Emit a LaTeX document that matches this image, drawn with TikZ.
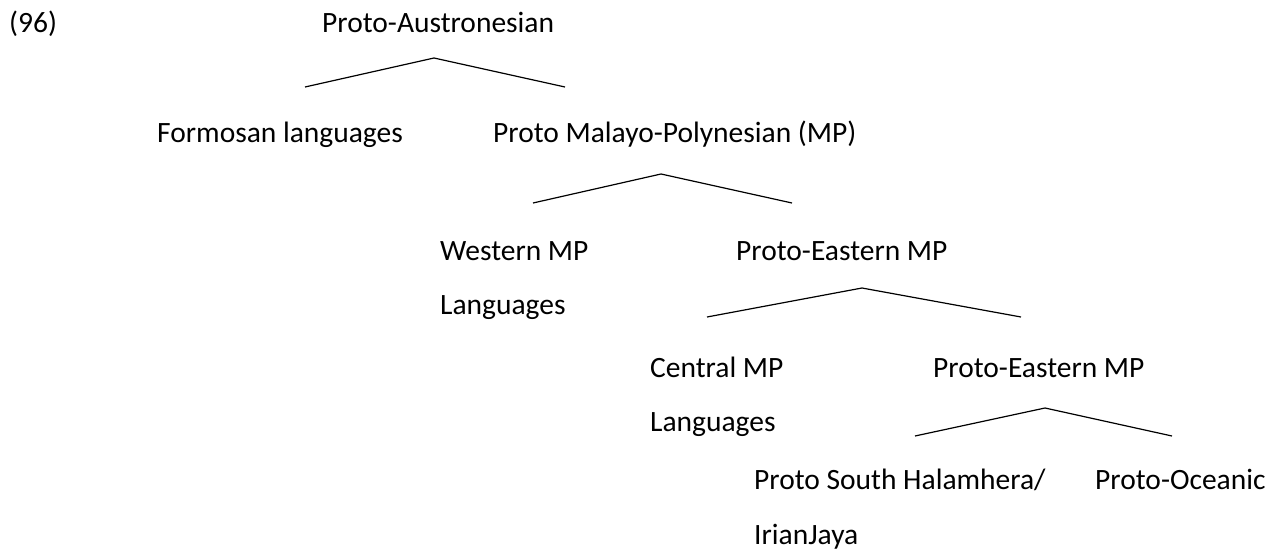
\documentclass[tikz,border=0pt]{standalone}
\usepackage{fontspec}
\setmainfont{Carlito}
% label font
\newcommand{\treefont}{\fontsize{29.5}{35}\selectfont}
\begin{document}
\begin{tikzpicture}[x=1pt,y=-1pt,
  lbl/.style={anchor=base west,inner sep=0pt,font=\treefont},
  branch/.style={line width=1.2pt,line join=miter}]
\useasboundingbox (0,0) rectangle (1276,551);
% example number and root
\node[lbl] (num) at (9,33) {(96)};
\node[lbl] (pan) at (322,33) {Proto-Austronesian};
% level 1
\coordinate (a1) at (434,58);
\coordinate (l1) at (305,87);
\coordinate (r1) at (565,87);
\draw[branch] (l1) -- (a1) -- (r1);
\node[lbl] (form) at (157,142) {Formosan languages};
\node[lbl] (pmp) at (493,142) {Proto Malayo-Polynesian (MP)};
% level 2
\coordinate (a2) at (661,174);
\coordinate (l2) at (533,203);
\coordinate (r2) at (792,203);
\draw[branch] (l2) -- (a2) -- (r2);
\node[lbl] (wmp) at (440,260) {Western MP};
\node[lbl] (wmpb) at (440,314) {Languages};
\node[lbl] (pemp) at (736,260) {Proto-Eastern MP};
% level 3
\coordinate (a3) at (862,288);
\coordinate (l3) at (707,317);
\coordinate (r3) at (1021,317);
\draw[branch] (l3) -- (a3) -- (r3);
\node[lbl] (cmp) at (650,377) {Central MP};
\node[lbl] (cmpb) at (650,431) {Languages};
\node[lbl] (pemp2) at (933,377) {Proto-Eastern MP};
% level 4
\coordinate (a4) at (1045,408);
\coordinate (l4) at (915,436);
\coordinate (r4) at (1172,436);
\draw[branch] (l4) -- (a4) -- (r4);
\node[lbl] (pshij) at (754,489) {Proto South Halamhera/};
\node[lbl] (pshijb) at (754,544) {IrianJaya};
\node[lbl] (poc) at (1095,489) {Proto-Oceanic};
\end{tikzpicture}
\end{document}
